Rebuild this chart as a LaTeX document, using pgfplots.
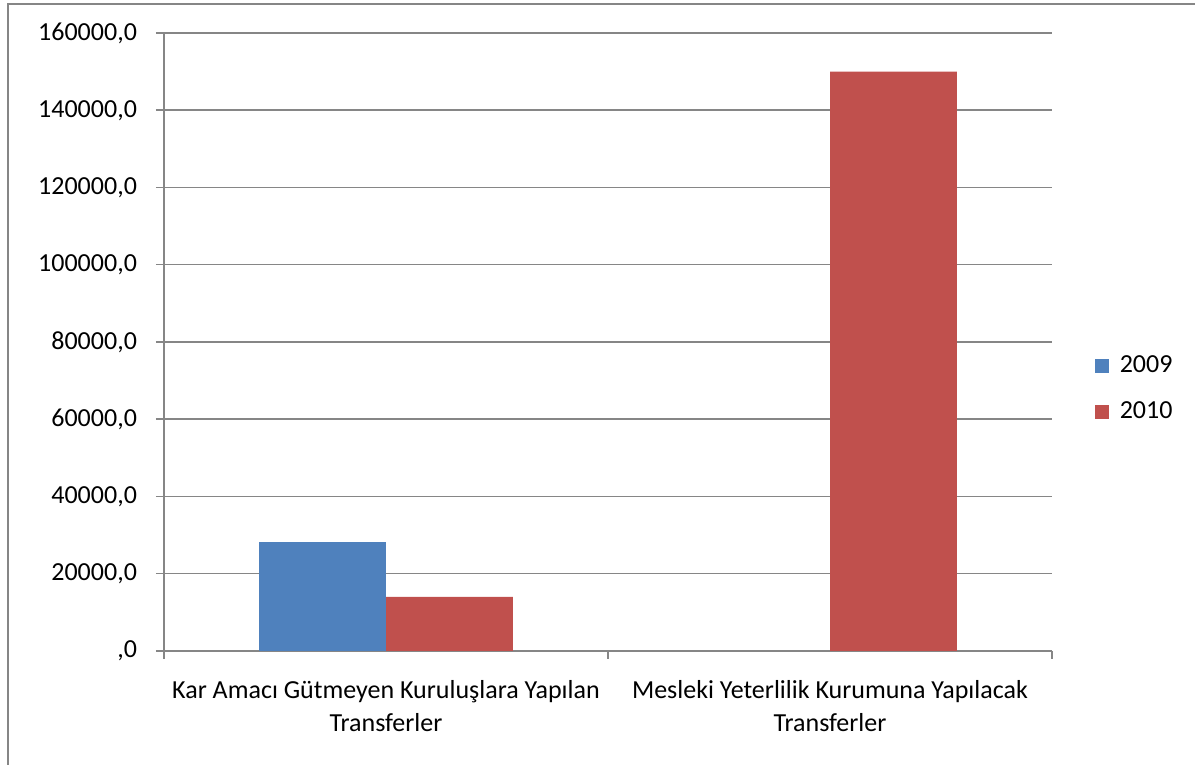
\documentclass[border=0pt]{standalone}
\usepackage{pgfplots}
\pgfplotsset{compat=1.18}
\usepackage{fontspec}
\setmainfont{Carlito}
\definecolor{c09}{HTML}{4F81BD}
\definecolor{c10}{HTML}{C0504D}
\definecolor{gridgray}{HTML}{868686}
\begin{document}
\fontsize{13}{16.5}\selectfont
\begin{tikzpicture}
\useasboundingbox (0pt,0pt) rectangle (597.5pt,382.5pt);
\draw[gridgray, line width=1pt] (4pt,0pt) -- (4pt,380.5pt) -- (597.5pt,380.5pt);
\begin{axis}[
  at={(82pt,57pt)}, anchor=south west,
  width=444pt, height=309pt, scale only axis,
  font=\fontsize{13}{16.5}\selectfont,
  xmin=-0.5, xmax=1.5, ymin=0, ymax=160000,
  ybar=0pt, bar width=0.286,
  axis x line*=bottom, axis y line*=left,
  axis line style={gridgray, line width=0.75pt},
  ymajorgrids, major grid style={gridgray, line width=0.75pt},
  tick style={gridgray, line width=0.75pt},
  tick align=outside, major tick length=4pt,
  scaled y ticks=false,
  ytick={0,20000,40000,60000,80000,100000,120000,140000,160000},
  yticklabels={{,0},{20000,0},{40000,0},{60000,0},{80000,0},{100000,0},{120000,0},{140000,0},{160000,0}},
  yticklabel style={xshift=-5pt},
  xtick={-0.5,0.5,1.5}, xticklabels={},
  extra x ticks={0,1},
  extra x tick labels={{Kar Amacı Gütmeyen Kuruluşlara Yapılan\\Transferler},{Mesleki Yeterlilik Kurumuna Yapılacak\\Transferler}},
  extra x tick style={major tick length=0pt, xticklabel style={align=center, yshift=-10pt}},
  legend style={draw=none, at={(1.041,0.424)}, anchor=west, font=\fontsize{13}{16.5}\selectfont, row sep=8.5pt},
  legend cell align=left,
  legend image code/.code={\fill[#1] (0pt,-3.5pt) rectangle (7pt,3.5pt); \path (10.5pt,0pt);},
]
\addplot[fill=c09, draw=none] coordinates {(0,28200)};
\addplot[fill=c10, draw=none] coordinates {(0,14000) (1,150000)};
\legend{2009,2010}
\end{axis}
\end{tikzpicture}
\end{document}
